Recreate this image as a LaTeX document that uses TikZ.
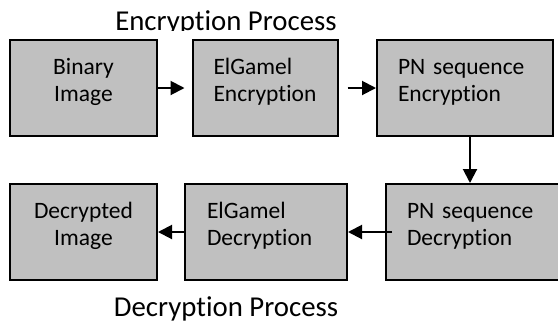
\documentclass[tikz,border=0pt]{standalone}
\usepackage{fontspec}
\setmainfont{Carlito}[RawFeature={-liga;-dlig}]
\usetikzlibrary{arrows.meta}
\definecolor{boxgray}{HTML}{C0C0C0}
\begin{document}
\begin{tikzpicture}[x=1bp,y=-1bp,
  procbox/.style={draw=black, line width=2bp, fill=boxgray, inner xsep=21bp, inner ysep=0pt,
    font=\fontsize{23.5bp}{27bp}\selectfont, text height=15bp, text depth=42bp},
  leftbox/.style={procbox, align=left},
  centbox/.style={procbox, align=center},
  flow/.style={line width=2bp, -{Triangle[length=14bp,width=14bp]}},
  title/.style={font=\fontsize{28.8bp}{34bp}\selectfont, anchor=base}
]
\useasboundingbox (0,0) rectangle (558,322);
% boxes
\node[centbox, minimum width=147bp, minimum height=96bp, text width=105bp] (b1) at (83.5,88) {Binary\\Image};
\node[leftbox, minimum width=145bp, minimum height=96bp, text width=103bp] (b2) at (265,88) {ElGamel\\Encryption};
\node[leftbox, minimum width=176bp, minimum height=96bp, text width=134bp] (b3) at (465,88) {PN sequence\\Encryption};
\node[leftbox, minimum width=176bp, minimum height=96bp, text width=134bp] (b4) at (474,232) {PN sequence\\Decryption};
\node[leftbox, minimum width=162bp, minimum height=96bp, text width=118bp, inner xsep=22bp] (b5) at (266,232) {ElGamel\\Decryption};
\node[centbox, minimum width=147bp, minimum height=96bp, text width=105bp] (b6) at (83.5,232) {Decrypted\\Image};
% titles
\begin{scope}
  \clip (0,0) rectangle (558,30.5);
  \node[title] (t1) at (226,30.5) {Encryption Process};
\end{scope}
\node[title] (t2) at (226,316.5) {Decryption Process};
% connectors
\draw[flow, shorten <=-2bp, shorten >=7bp] (b1.east) -- (b2.west);
\draw[flow, shorten <=9bp] (b2.east) -- (b3.west);
\draw[flow] ([xshift=5bp]b3.south) -- ([xshift=5bp]b3.south |- b4.north);
\draw[flow, shorten <=-7bp] (b4.west) -- (b5.east);
\draw[flow] (b5.west) -- (b6.east);
\end{tikzpicture}
\end{document}
